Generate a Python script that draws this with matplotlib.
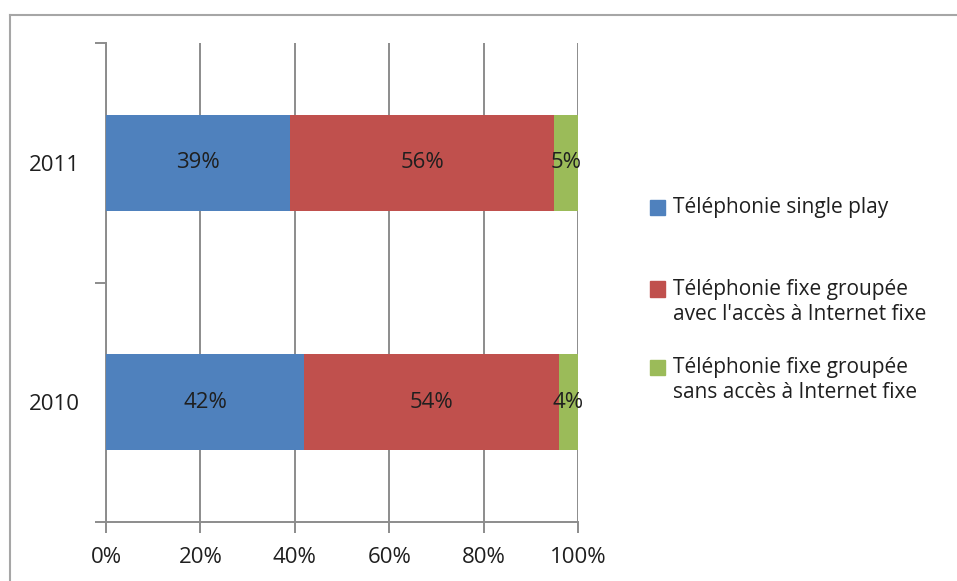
import numpy as np
import matplotlib.pyplot as plt
from matplotlib.patches import Rectangle
from matplotlib.lines import Line2D
from matplotlib.ticker import FuncFormatter

plt.rcParams['font.family'] = ['Open Sans', 'DejaVu Sans']

years = ['2010', '2011']
series = [
    'Téléphonie single play',
    "Téléphonie fixe groupée\navec l'accès à Internet fixe",
    'Téléphonie fixe groupée\nsans accès à Internet fixe',
]
shares = {
    series[0]: [42, 39],
    series[1]: [54, 56],
    series[2]: [4, 5],
}
colors = ['#4F81BD', '#C0504D', '#9BBB59']

GRID = '#8c8c8c'
TEXT = '#1f1f1f'

fig = plt.figure(figsize=(9.57, 5.81), dpi=100)
ax = fig.add_axes([106 / 957, 59 / 581, 472 / 957, 479 / 581])

y = np.arange(len(years))
left = np.zeros(len(years))
for name, col in zip(series, colors):
    vals = np.array(shares[name], dtype=float)
    bars = ax.barh(y, vals, left=left, height=0.4, color=col, zorder=3)
    ax.bar_label(bars, labels=[f'{v:.0f}%' for v in vals], label_type='center',
                 fontsize=16, color=TEXT, zorder=4)
    left += vals

ax.set_xlim(0, 100)
ax.set_ylim(-0.5, 1.5)
ax.set_xticks(np.arange(0, 101, 20))
ax.xaxis.set_major_formatter(FuncFormatter(lambda v, _: f'{v:.0f}%'))
ax.set_yticks(y)
ax.set_yticklabels(years)
ax.set_yticks([-0.5, 0.5, 1.5], minor=True)

ax.grid(axis='x', color=GRID, linewidth=1.4, zorder=1)
for side in ['top', 'right']:
    ax.spines[side].set_visible(False)
for side in ['left', 'bottom']:
    ax.spines[side].set_color(GRID)
    ax.spines[side].set_linewidth(1.4)

ax.tick_params(axis='x', direction='out', length=8, width=1.4, color=GRID,
               labelsize=16, labelcolor=TEXT, pad=10)
ax.tick_params(axis='y', which='major', length=0, labelsize=16, labelcolor=TEXT, pad=18.5)
ax.tick_params(axis='y', which='minor', direction='out', length=8, width=1.4, color=GRID)

# legend drawn by hand so the squares sit on the first text line
legend_y = [207.5, 289, 367]
for name, col, ly in zip(series, colors, legend_y):
    fig.patches.append(Rectangle((650 / 957, 1 - (ly + 7.5) / 581), 15 / 957, 15 / 581,
                                 transform=fig.transFigure, color=col))
    fig.text(673 / 957, 1 - (ly - 10) / 581, name, fontsize=15, color=TEXT,
             va='top', ha='left', linespacing=1.27)

# outer frame (top and left edges)
fig.lines.append(Line2D([10 / 957, 1], [1 - 15 / 581] * 2, transform=fig.transFigure,
                        color='#a6a6a6', linewidth=1.5))
fig.lines.append(Line2D([10 / 957] * 2, [0, 1 - 15 / 581], transform=fig.transFigure,
                        color='#a6a6a6', linewidth=1.5))

fig.savefig('out.png', dpi=100)
